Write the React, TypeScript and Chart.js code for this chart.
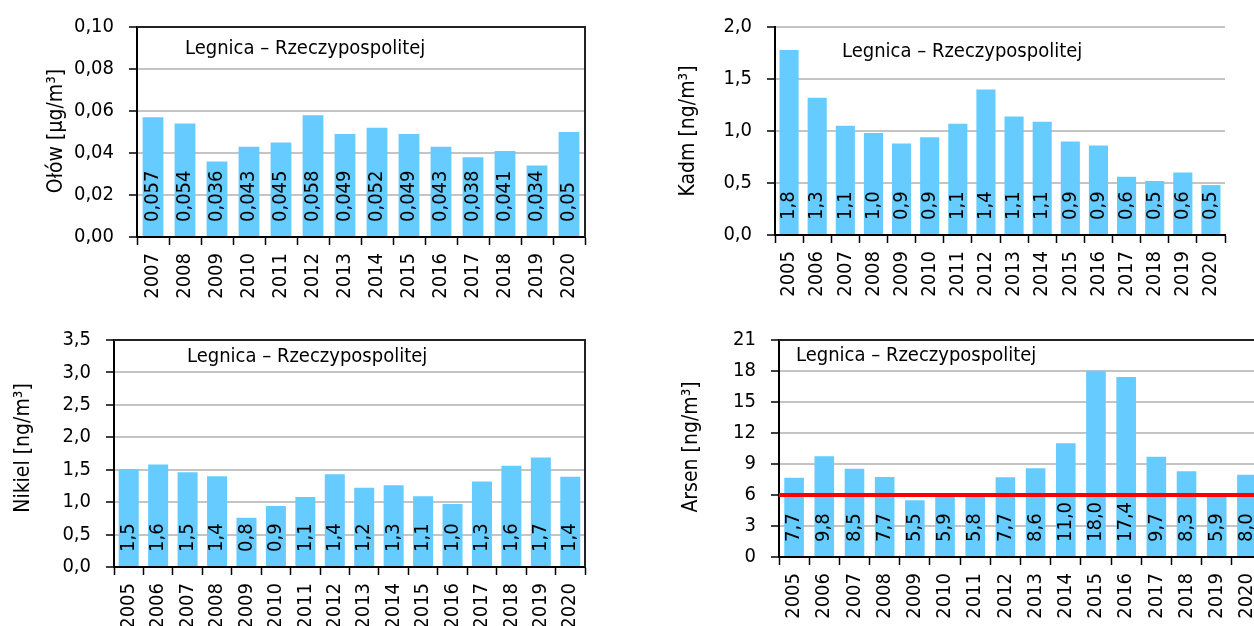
import React, { useEffect, useRef } from 'react';
import { Chart, registerables } from 'chart.js';

Chart.register(...registerables);

// ---------- data ----------
const YEARS_OLOW = ['2007', '2008', '2009', '2010', '2011', '2012', '2013', '2014', '2015', '2016', '2017', '2018', '2019', '2020'];
const YEARS = ['2005', '2006', '2007', '2008', '2009', '2010', '2011', '2012', '2013', '2014', '2015', '2016', '2017', '2018', '2019', '2020'];

const OLOW = [0.057, 0.054, 0.036, 0.043, 0.045, 0.058, 0.049, 0.052, 0.049, 0.043, 0.038, 0.041, 0.034, 0.05];
const KADM = [1.78, 1.32, 1.05, 0.98, 0.88, 0.94, 1.07, 1.4, 1.14, 1.09, 0.9, 0.86, 0.56, 0.52, 0.6, 0.48];
const NIKIEL = [1.51, 1.58, 1.46, 1.4, 0.76, 0.94, 1.08, 1.43, 1.22, 1.26, 1.09, 0.97, 1.32, 1.56, 1.69, 1.39];
const ARSEN = [7.66, 9.76, 8.54, 7.74, 5.48, 5.9, 5.8, 7.72, 8.59, 11.0, 18.02, 17.41, 9.71, 8.3, 5.9, 7.96];
const ARSEN_TARGET = 6;

const STATION = 'Legnica – Rzeczypospolitej';
const Y_TITLES = ['Ołów [µg/m³]', 'Kadm [ng/m³]', 'Nikiel [ng/m³]', 'Arsen [ng/m³]'];

// ---------- style ----------
const BAR_COLOR = '#66CCFF';
const FONT_FAMILY = "'DejaVu Sans Condensed', 'Liberation Sans', Arial, sans-serif";
const FS = 20;
const FS_TITLE = 20;
const FS_YTITLE = 21;
const GRID_COLOR = '#c4c4c4';

type Spec = {
  labels: string[];
  values: number[];
  yTitle: string;
  min: number;
  max: number;
  step: number;
  yFmt: (v: number) => string;
  vFmt: (v: number) => string;
  box: boolean;
  limit?: number;
  barPct: number;
  // layout (page pixel coordinates)
  cLeft: number; cTop: number; cW: number; cH: number;
  pLeft: number; pTop: number; pRight: number; pBottom: number;
  titleX: number; titleY: number;
  yTitleX: number; yTitleY: number;
};

const comma = (s: string) => s.replace('.', ',');

const SPECS: Spec[] = [
  {
    labels: YEARS_OLOW, values: OLOW, yTitle: Y_TITLES[0],
    min: 0, max: 0.1, step: 0.02,
    yFmt: (v) => comma(v.toFixed(2)), vFmt: (v) => comma(String(v)),
    box: true, barPct: 0.65,
    cLeft: 0, cTop: 0, cW: 620, cH: 313,
    pLeft: 137, pTop: 25, pRight: 585, pBottom: 237,
    titleX: 185, titleY: 49, yTitleX: 57, yTitleY: 131,
  },
  {
    labels: YEARS, values: KADM, yTitle: Y_TITLES[1],
    min: 0, max: 2, step: 0.5,
    yFmt: (v) => comma(v.toFixed(1)), vFmt: (v) => comma(v.toFixed(1)),
    box: false, barPct: 0.68,
    cLeft: 620, cTop: 0, cW: 634, cH: 313,
    pLeft: 775, pTop: 25, pRight: 1225, pBottom: 235,
    titleX: 842, titleY: 52, yTitleX: 689, yTitleY: 131,
  },
  {
    labels: YEARS, values: NIKIEL, yTitle: Y_TITLES[2],
    min: 0, max: 3.5, step: 0.5,
    yFmt: (v) => comma(v.toFixed(1)), vFmt: (v) => comma(v.toFixed(1)),
    box: true, barPct: 0.68,
    cLeft: 0, cTop: 313, cW: 620, cH: 327,
    pLeft: 114, pTop: 339, pRight: 585, pBottom: 567,
    titleX: 187, titleY: 357, yTitleX: 24, yTitleY: 448,
  },
  {
    labels: YEARS, values: ARSEN, yTitle: Y_TITLES[3],
    min: 0, max: 21, step: 3,
    yFmt: (v) => String(Math.round(v)), vFmt: (v) => comma(v.toFixed(1)),
    box: true, limit: ARSEN_TARGET, barPct: 0.65,
    cLeft: 620, cTop: 313, cW: 680, cH: 327,
    pLeft: 779, pTop: 339, pRight: 1262, pBottom: 557,
    titleX: 796, titleY: 356, yTitleX: 692, yTitleY: 447,
  },
];

function makePlugin(spec: Spec) {
  return {
    id: 'panelDecor',
    afterDatasetsDraw(chart: any) {
      const { ctx, chartArea } = chart;
      const yScale = chart.scales.y;
      if (spec.limit != null) {
        const y = yScale.getPixelForValue(spec.limit);
        ctx.save();
        ctx.strokeStyle = '#FF0000';
        ctx.lineWidth = 4;
        ctx.beginPath();
        ctx.moveTo(chartArea.left, y);
        ctx.lineTo(chartArea.right, y);
        ctx.stroke();
        ctx.restore();
      }
      const meta = chart.getDatasetMeta(0);
      ctx.save();
      ctx.fillStyle = '#000';
      ctx.font = `${FS}px ${FONT_FAMILY}`;
      ctx.textAlign = 'left';
      ctx.textBaseline = 'middle';
      meta.data.forEach((el: any, i: number) => {
        ctx.save();
        ctx.translate(el.x, chartArea.bottom - 15);
        ctx.rotate(-Math.PI / 2);
        ctx.fillText(spec.vFmt(spec.values[i]), 0, 0);
        ctx.restore();
      });
      ctx.restore();
    },
    afterDraw(chart: any) {
      const { ctx, chartArea } = chart;
      ctx.save();
      if (spec.box) {
        ctx.strokeStyle = '#222';
        ctx.lineWidth = 2;
        ctx.beginPath();
        ctx.moveTo(chartArea.left, chartArea.top);
        ctx.lineTo(chartArea.right, chartArea.top);
        ctx.lineTo(chartArea.right, chartArea.bottom);
        ctx.stroke();
      }
      ctx.fillStyle = '#000';
      ctx.font = `${FS_TITLE}px ${FONT_FAMILY}`;
      ctx.textAlign = 'left';
      ctx.textBaseline = 'middle';
      ctx.fillText(STATION, spec.titleX - spec.cLeft, spec.titleY - spec.cTop);
      ctx.font = `${FS_YTITLE}px ${FONT_FAMILY}`;
      ctx.translate(spec.yTitleX - spec.cLeft, spec.yTitleY - spec.cTop);
      ctx.rotate(-Math.PI / 2);
      ctx.textAlign = 'center';
      ctx.fillText(spec.yTitle, 0, 0);
      ctx.restore();
    },
  };
}

function Panel({ spec }: { spec: Spec }) {
  const ref = useRef<HTMLCanvasElement | null>(null);
  useEffect(() => {
    if (!ref.current) return;
    const font = { family: FONT_FAMILY, size: FS };
    const chart = new Chart(ref.current, {
      type: 'bar',
      data: {
        labels: spec.labels,
        datasets: [
          {
            data: spec.values,
            backgroundColor: BAR_COLOR,
            borderWidth: 0,
            barPercentage: spec.barPct,
            categoryPercentage: 1,
          },
        ],
      },
      options: {
        animation: false,
        responsive: false,
        maintainAspectRatio: false,
        devicePixelRatio: 1,
        layout: {
          padding: {
            left: 0,
            top: spec.pTop - spec.cTop,
            right: spec.cLeft + spec.cW - spec.pRight,
            bottom: 0,
          },
        },
        plugins: {
          legend: { display: false },
          tooltip: { enabled: false },
          title: { display: false },
        },
        scales: {
          x: {
            grid: {
              display: true,
              drawOnChartArea: false,
              drawTicks: true,
              tickLength: 8,
              tickColor: '#000',
              tickWidth: 1.5,
              offset: true,
            },
            border: { display: true, color: '#000', width: 2 },
            ticks: {
              font,
              color: '#000',
              minRotation: 90,
              maxRotation: 90,
              padding: 8,
              autoSkip: false,
            },
            afterFit: (s: any) => {
              s.height = spec.cTop + spec.cH - spec.pBottom;
            },
          },
          y: {
            min: spec.min,
            max: spec.max,
            ticks: {
              stepSize: spec.step,
              font,
              color: '#000',
              padding: 15,
              callback: (v: any) => spec.yFmt(Number(v)),
            },
            grid: {
              color: GRID_COLOR,
              lineWidth: 2,
              tickLength: 8,
              tickColor: '#000',
              tickWidth: 1.5,
            },
            border: { display: true, color: '#000', width: 2 },
            afterFit: (s: any) => {
              s.width = spec.pLeft - spec.cLeft;
            },
          },
        },
      } as any,
      plugins: [makePlugin(spec)],
    });
    return () => chart.destroy();
  }, [spec]);
  return (
    <canvas
      ref={ref}
      width={spec.cW}
      height={spec.cH}
      style={{
        position: 'absolute',
        left: spec.cLeft,
        top: spec.cTop,
        width: spec.cW,
        height: spec.cH,
      }}
    />
  );
}

export default function App() {
  return (
    <div
      style={{
        position: 'fixed',
        left: 0,
        top: 0,
        width: 1254,
        height: 626,
        overflow: 'hidden',
        background: '#fff',
      }}
    >
      {SPECS.map((s, i) => (
        <Panel key={i} spec={s} />
      ))}
    </div>
  );
}
